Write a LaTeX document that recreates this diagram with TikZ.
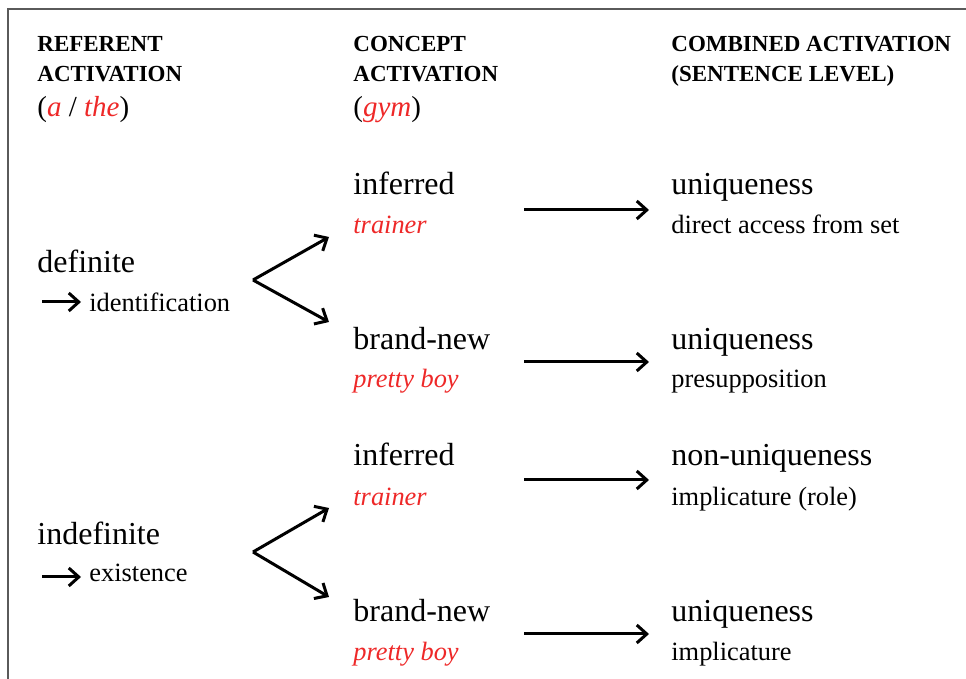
\documentclass[tikz,border=0pt]{standalone}
\usepackage{fontspec}
\setmainfont{Liberation Serif}
\usetikzlibrary{arrows.meta}
\definecolor{exred}{RGB}{238,40,40}
\definecolor{framegray}{RGB}{90,90,90}

\tikzset{
    big/.style={anchor=base west, inner sep=0pt, font=\fontsize{16}{19}\selectfont},
    small/.style={anchor=base west, inner sep=0pt, font=\fontsize{13.2}{16}\selectfont},
    head/.style={anchor=base west, inner sep=0pt, font=\fontsize{11.5}{14}\selectfont\bfseries},
    eg/.style={anchor=base west, inner sep=0pt, text=exred, font=\fontsize{13.2}{16}\selectfont\itshape},
    link/.style={-{Straight Barb[length=5pt,width=9pt,line width=1.5pt]}, line width=1.5pt},
}

\begin{document}
\begin{tikzpicture}[x=0.5pt, y=-0.5pt]
    \useasboundingbox (0, 0) rectangle (966, 679);
    % frame
    \draw[framegray, line width=1pt] (8, 679) -- (8, 9) -- (966, 9);

    % column heads
    \node[head] (refA) at (37, 52) {REFERENT};
    \node[head] (refB) at (37, 82) {ACTIVATION};
    \node[anchor=base west, inner sep=0pt, font=\fontsize{14.5}{17}\selectfont] (refC) at (37, 117)
        {(\textcolor{exred}{\textit{a}} / \textcolor{exred}{\textit{the}})};
    \node[head] (conA) at (353, 52) {CONCEPT};
    \node[head] (conB) at (353, 82) {ACTIVATION};
    \node[anchor=base west, inner sep=0pt, font=\fontsize{14.5}{17}\selectfont] (conC) at (353, 117)
        {(\textcolor{exred}{\textit{gym}})};
    \node[head] (comA) at (671, 52) {COMBINED ACTIVATION};
    \node[head] (comB) at (671, 82) {(SENTENCE LEVEL)};

    % referent column
    \node[big] (def) at (37, 273) {definite};
    \node[small] (ident) at (89, 312) {identification};
    \node[big] (indef) at (37, 545) {indefinite};
    \node[small] (exist) at (89, 582) {existence};
    \coordinate (defTail) at (42, 302);
    \coordinate (indefTail) at (42, 577);
    \draw[link] (defTail) -- ([xshift=-4pt]ident.west |- defTail);
    \draw[link] (indefTail) -- ([xshift=-4pt]exist.west |- indefTail);

    % concept column
    \node[big] (infA) at (353, 195) {inferred};
    \node[eg] (trA) at (353, 234) {trainer};
    \node[big] (newA) at (353, 350) {brand-new};
    \node[eg] (boyA) at (353, 388) {pretty boy};
    \node[big] (infB) at (353, 466) {inferred};
    \node[eg] (trB) at (353, 506) {trainer};
    \node[big] (newB) at (353, 622) {brand-new};
    \node[eg] (boyB) at (353, 661) {pretty boy};

    % combined column
    \node[big] (uniqA) at (671, 195) {uniqueness};
    \node[small] (dirA) at (671, 234) {direct access from set};
    \node[big] (uniqB) at (671, 350) {uniqueness};
    \node[small] (presB) at (671, 388) {presupposition};
    \node[big] (nonC) at (671, 466) {non-uniqueness};
    \node[small] (implC) at (671, 506) {implicature (role)};
    \node[big] (uniqD) at (671, 622) {uniqueness};
    \node[small] (implD) at (671, 661) {implicature};

    % forks
    \coordinate (defFork) at (253, 280);
    \coordinate (defUp) at (329, 237);
    \coordinate (defDown) at (329, 322);
    \draw[link] (defFork) -- (defUp);
    \draw[link] (defFork) -- (defDown);
    \coordinate (indefFork) at (253, 552);
    \coordinate (indefUp) at (329, 508);
    \coordinate (indefDown) at (329, 597);
    \draw[link] (indefFork) -- (indefUp);
    \draw[link] (indefFork) -- (indefDown);

    % concept to combined
    \coordinate (rowA) at (524, 210);
    \coordinate (rowB) at (524, 362);
    \coordinate (rowC) at (524, 480);
    \coordinate (rowD) at (524, 634);
    \draw[link] (rowA) -- ([xshift=-11pt]uniqA.west |- rowA);
    \draw[link] (rowB) -- ([xshift=-11pt]uniqB.west |- rowB);
    \draw[link] (rowC) -- ([xshift=-11pt]nonC.west |- rowC);
    \draw[link] (rowD) -- ([xshift=-11pt]uniqD.west |- rowD);
\end{tikzpicture}
\end{document}
